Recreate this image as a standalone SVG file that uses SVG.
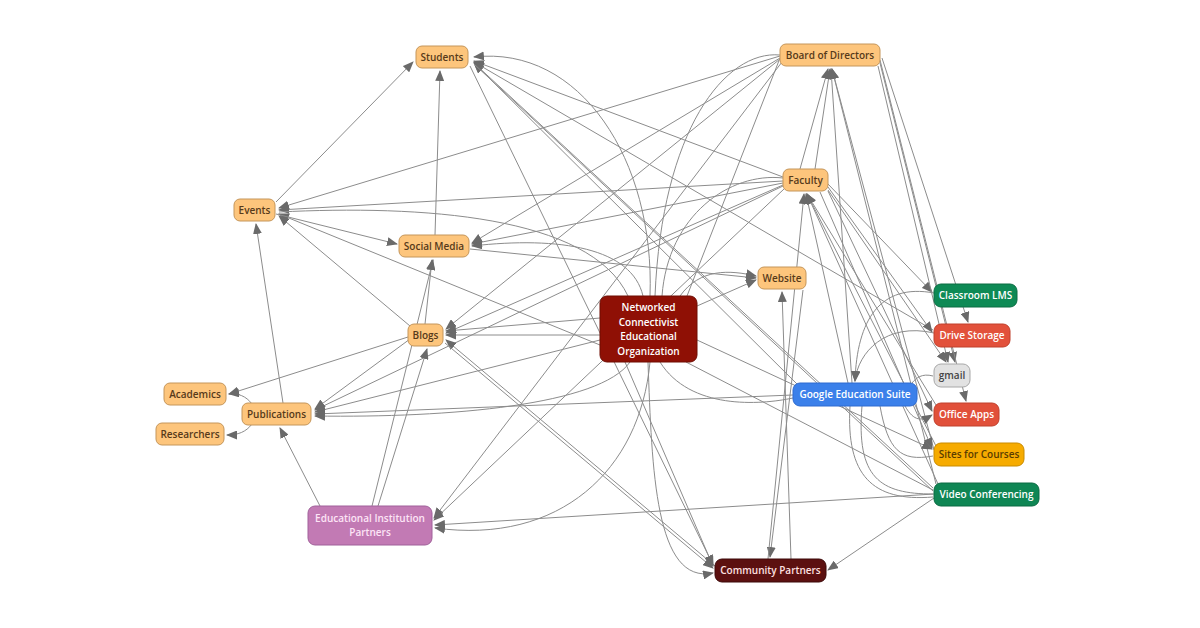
<svg xmlns="http://www.w3.org/2000/svg" width="1200" height="628" viewBox="0 0 1200 628">
<defs>
<marker id="ah" markerWidth="11" markerHeight="9" refX="10" refY="4.5" orient="auto" markerUnits="userSpaceOnUse">
<path d="M0,0 L11,4.5 L0,9 z" fill="#6a6a6a"/>
</marker>
<style>
.e{fill:none;stroke:#8c8c8c;stroke-width:1;marker-end:url(#ah)}
.n{fill:none;stroke:#8c8c8c;stroke-width:1}
text{font-family:"Open Sans","Noto Sans","DejaVu Sans",sans-serif;font-size:10px;font-weight:600;text-anchor:middle}
.or rect{fill:#fdc57c;stroke:#c5965a;stroke-width:1}
.or text{fill:#573a1a}
.lt text{fill:#ffffff}
</style>
</defs>
<rect width="1200" height="628" fill="#ffffff"/>
<g id="connectors">
<path class="e" d="M276,202 L413,62"/>
<path class="e" d="M435,235 L440,71"/>
<path class="e" d="M783,177 L474,61"/>
<path class="e" d="M800,387 L474,63"/>
<path class="e" d="M933,488 L474,63"/>
<path class="e" d="M933,330 L474,62"/>
<path class="e" d="M650,296 C655,160 580,45 474,57"/>
<path class="e" d="M780,56 L279,208"/>
<path class="e" d="M783,181 L279,210"/>
<path class="e" d="M600,345 L279,214"/>
<path class="e" d="M410,326 L279,216"/>
<path class="e" d="M276,214 L397,244"/>
<path class="e" d="M283,403 L256,224"/>
<path class="e" d="M783,183 L472,244"/>
<path class="e" d="M780,58 L472,243"/>
<path class="e" d="M643,296 C632,248 560,236 472,246"/>
<path class="e" d="M782,62 L434,518"/>
<path class="e" d="M784,189 L434,520"/>
<path class="e" d="M780,59 L446,329"/>
<path class="e" d="M783,185 L446,333"/>
<path class="e" d="M600,335 L446,335"/>
<path class="e" d="M600,318 L446,331"/>
<path class="e" d="M470,249 L756,278"/>
<path class="e" d="M680,296 C700,268 730,270 756,276"/>
<path class="e" d="M697,306 L756,280"/>
<path class="e" d="M783,186 L315,410"/>
<path class="e" d="M600,340 L315,412"/>
<path class="e" d="M630,362 C600,405 450,418 315,416"/>
<path class="e" d="M793,395 L315,414"/>
<path class="e" d="M410,339 L315,409"/>
<path class="e" d="M408,337 L229,394"/>
<path class="e" d="M252,404 C246,396 238,393 229,394"/>
<path class="e" d="M252,424 C246,432 238,435 227,435"/>
<path class="e" d="M425,324 L432,260"/>
<path class="e" d="M372,506 L433,260"/>
<path class="e" d="M378,506 L427,349"/>
<path class="e" d="M320,506 L280,428"/>
<path class="e" d="M934,494 L435,525"/>
<path class="e" d="M650,362 C640,470 560,545 435,528"/>
<path class="e" d="M715,566 L446,340"/>
<path class="e" d="M470,66 L713,565"/>
<path class="e" d="M445,343 L713,568"/>
<path class="e" d="M648,362 C652,470 655,585 713,573"/>
<path class="e" d="M625,362 L713,566"/>
<path class="e" d="M803,290 L770,557"/>
<path class="e" d="M791,559 L782,292"/>
<path class="e" d="M934,498 L828,570"/>
<path class="e" d="M828,184 L932,292"/>
<path class="e" d="M828,187 L932,332"/>
<path class="e" d="M828,190 L946,362"/>
<path class="e" d="M878,66 L948,362"/>
<path class="e" d="M880,63 L955,362"/>
<path class="e" d="M880,60 L966,401"/>
<path class="e" d="M882,58 L968,322"/>
<path class="e" d="M800,169 L828,69"/>
<path class="e" d="M815,169 L830,69"/>
<path class="e" d="M852,383 L831,69"/>
<path class="e" d="M934,450 L832,69"/>
<path class="e" d="M936,484 L832,69"/>
<path class="e" d="M848,383 L806,194"/>
<path class="e" d="M936,405 L807,194"/>
<path class="e" d="M936,446 L807,194"/>
<path class="e" d="M938,484 L807,194"/>
<path class="e" d="M768,559 L804,194"/>
<path class="e" d="M934,293 C880,283 857,320 855,381"/>
<path class="e" d="M934,333 C886,322 858,352 855,381"/>
<path class="e" d="M905,406 C914,422 922,421 932,415"/>
<path class="e" d="M828,191 L932,411"/>
<path class="e" d="M820,192 L932,448"/>
<path class="e" d="M697,340 L932,449"/>
<path class="n" d="M660,362 C690,410 760,405 793,398"/>
<path class="n" d="M686,362 L933,490"/>
<path class="n" d="M474,64 L933,491"/>
<path class="n" d="M780,55 C725,50 662,130 655,296"/>
<path class="n" d="M780,58 L687,296"/>
<path class="n" d="M783,178 C730,172 668,215 662,296"/>
<path class="n" d="M880,406 C888,450 900,462 933,456"/>
<path class="n" d="M862,406 C856,478 880,494 933,494"/>
<path class="n" d="M850,406 C846,475 872,502 933,497"/>
<path class="n" d="M933,376 C922,373 916,378 912,383"/>
<path class="n" d="M279,212 C420,205 590,215 628,296"/>
</g>
<g id="students" class="or"><rect x="416" y="46" width="52" height="22" rx="6"/><text x="442" y="60.5">Students</text></g>
<g id="board" class="or"><rect x="780" y="44" width="100" height="22" rx="6"/><text x="830" y="58.5">Board of Directors</text></g>
<g id="faculty" class="or"><rect x="783" y="169" width="45" height="22" rx="6"/><text x="805.5" y="183.5">Faculty</text></g>
<g id="events" class="or"><rect x="234" y="199" width="41" height="22" rx="6"/><text x="254.5" y="213.5">Events</text></g>
<g id="social-media" class="or"><rect x="399" y="235" width="70" height="22" rx="6"/><text x="434" y="249.5">Social Media</text></g>
<g id="website" class="or"><rect x="758" y="267" width="48" height="22" rx="6"/><text x="782" y="281.5">Website</text></g>
<g id="blogs" class="or"><rect x="408" y="324" width="35" height="22" rx="6"/><text x="425.5" y="338.5">Blogs</text></g>
<g id="academics" class="or"><rect x="164" y="383" width="62" height="22" rx="6"/><text x="195" y="397.5">Academics</text></g>
<g id="publications" class="or"><rect x="242" y="403" width="69" height="22" rx="6"/><text x="276.5" y="417.5">Publications</text></g>
<g id="researchers" class="or"><rect x="156" y="423" width="68" height="22" rx="6"/><text x="190" y="437.5">Researchers</text></g>
<g id="networked" class="lt"><rect x="600" y="296" width="97" height="66" rx="7" fill="#8f1005" stroke="#6e0c03"/><text x="648.5" y="311" fill="#ffe0d8">Networked</text><text x="648.5" y="325.5" fill="#ffe0d8">Connectivist</text><text x="648.5" y="340" fill="#ffe0d8">Educational</text><text x="648.5" y="354.5" fill="#ffe0d8">Organization</text></g>
<g id="google-education-suite" class="lt"><rect x="793" y="383" width="124" height="23" rx="7" fill="#3b80ea" stroke="#2e6bd0"/><text x="855" y="398">Google Education Suite</text></g>
<g id="classroom-lms" class="lt"><rect x="934" y="284" width="83" height="23" rx="7" fill="#0e8a55" stroke="#0a6d43"/><text x="975.5" y="299">Classroom LMS</text></g>
<g id="drive-storage" class="lt"><rect x="934" y="324" width="76" height="23" rx="7" fill="#e2513b" stroke="#c0402c"/><text x="972" y="339">Drive Storage</text></g>
<g id="gmail"><rect x="934" y="364" width="36" height="23" rx="7" fill="#e2e2e2" stroke="#a8a8a8"/><text x="952" y="379" fill="#444444">gmail</text></g>
<g id="office-apps" class="lt"><rect x="934" y="403" width="65" height="23" rx="7" fill="#e1503a" stroke="#c0402c"/><text x="966.5" y="418">Office Apps</text></g>
<g id="sites-for-courses"><rect x="934" y="443" width="90" height="23" rx="7" fill="#f6ab00" stroke="#c98b00"/><text x="979" y="458" fill="#5a3c00">Sites for Courses</text></g>
<g id="video-conferencing" class="lt"><rect x="934" y="483" width="105" height="23" rx="7" fill="#0f8654" stroke="#0a6a42"/><text x="986.5" y="498">Video Conferencing</text></g>
<g id="educational-institution-partners"><rect x="308" y="506" width="124" height="39" rx="7" fill="#c27ab4" stroke="#a0619a"/><text x="370" y="521.5" fill="#fde4f6">Educational Institution</text><text x="370" y="536" fill="#fde4f6">Partners</text></g>
<g id="community-partners"><rect x="715" y="559" width="111" height="23" rx="7" fill="#5c1010" stroke="#3c0808"/><text x="770.5" y="574" fill="#ffe0e0">Community Partners</text></g>
</svg>
